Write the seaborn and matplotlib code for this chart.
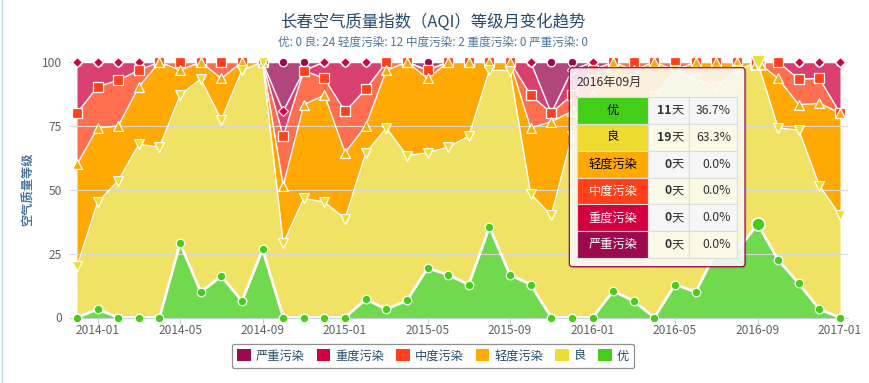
"""
长春空气质量指数（AQI）等级月变化趋势 - 百分比堆叠面积图
"""
import numpy as np
import pandas as pd
import matplotlib
matplotlib.use("Agg")
import matplotlib.pyplot as plt
import seaborn as sns
from matplotlib.patches import FancyBboxPatch, Rectangle, Patch

# Måneder (2013-12 .. 2017-01)
months = pd.period_range("2013-12", "2017-01", freq="M").strftime("%Y-%m").tolist()

# Antal dage pr. niveau pr. måned
days_you = [0, 1, 0, 0, 0, 9, 3, 5, 2, 8, 0, 0, 0, 0, 2, 1, 2, 6, 5, 4, 11, 5, 4, 0,
            0, 0, 3, 2, 0, 4, 3, 8, 8, 11, 7, 4, 1, 0]
days_liang = [6, 13, 15, 21, 20, 18, 25, 19, 28, 22, 9, 14, 14, 12, 16, 22, 17, 14, 15, 18, 19, 24, 11, 12,
              22, 20, 20, 22, 26, 26, 25, 20, 22, 19, 16, 18, 15, 12]
days_light = [12, 9, 6, 7, 10, 3, 2, 5, 1, 0, 7, 11, 13, 8, 3, 7, 11, 9, 10, 9, 1, 1, 8, 11,
              3, 7, 6, 6, 4, 0, 2, 3, 1, 0, 6, 3, 10, 12]
days_moderate = [6, 5, 5, 2, 0, 1, 0, 2, 0, 0, 6, 4, 2, 5, 4, 1, 0, 1, 0, 0, 0, 0, 4, 1,
                 2, 3, 0, 1, 0, 1, 0, 0, 0, 0, 2, 3, 3, 0]
days_heavy = [6, 3, 2, 1, 0, 0, 0, 0, 0, 0, 3, 0, 2, 6, 3, 0, 0, 0, 0, 0, 0, 0, 4, 0,
              3, 1, 0, 0, 0, 0, 0, 0, 0, 0, 0, 2, 2, 6]
days_severe = [0, 0, 0, 0, 0, 0, 0, 0, 0, 0, 6, 1, 0, 0, 0, 0, 0, 1, 0, 0, 0, 0, 0, 6,
               1, 0, 0, 0, 0, 0, 0, 0, 0, 0, 0, 0, 0, 0]

# Niveauer fra bund til top i stakken
levels = ["优", "良", "轻度污染", "中度污染", "重度污染", "严重污染"]
marker_colors = ["#43ce17", "#efdc31", "#ffaa00", "#ff401a", "#d20040", "#9c0a4e"]
fill_colors = ["#70d94e", "#f0e264", "#ffa902", "#ff6f4f", "#d9406f", "#b2457b"]
markers = ["o", "v", "^", "s", "D", "o"]
marker_sizes = [38, 50, 50, 42, 26, 38]

hover_idx = months.index("2016-09")
subtitle = "优: 0 良: 24 轻度污染: 12 中度污染: 2 重度污染: 0 严重污染: 0"

df = pd.DataFrame({
    "优": days_you, "良": days_liang, "轻度污染": days_light,
    "中度污染": days_moderate, "重度污染": days_heavy, "严重污染": days_severe,
}, index=months)
pct = df.div(df.sum(axis=1), axis=0) * 100
cum = pct.cumsum(axis=1)

sns.set_theme(style="white")
plt.rcParams["font.family"] = ["Noto Sans CJK SC", "DejaVu Sans"]

W, H = 869, 383
fig = plt.figure(figsize=(W / 100, H / 100), dpi=100)
ax = fig.add_axes([70 / W, 1 - 317.5 / H, 778 / W, 255.5 / H])

x = np.arange(len(months))
lower = np.zeros(len(months))
for lvl, fc in zip(levels, fill_colors):
    upper = cum[lvl].values
    ax.fill_between(x, lower, upper, color=fc, lw=0, zorder=1)
    lower = upper

# Hvide kantlinjer
for lvl in levels:
    sns.lineplot(x=x, y=cum[lvl].values, color="white", lw=2.0 if lvl == "优" else 1.0,
                 ax=ax, zorder=3, estimator=None, sort=False)

# Markører (tegnes fra top-serien til bund-serien)
for i in reversed(range(len(levels))):
    lvl = levels[i]
    y = cum[lvl].values
    sns.scatterplot(x=x, y=y, marker=markers[i], s=marker_sizes[i], color=marker_colors[i],
                    edgecolor="white", linewidth=0.9, ax=ax, zorder=4 + (5 - i) * 0.1,
                    clip_on=False, legend=False)
    # hover-markør (forstørret)
    ax.scatter([x[hover_idx]], [y[hover_idx]], marker=markers[i], s=marker_sizes[i] * 2.3,
               color=marker_colors[i], edgecolor="white", linewidth=1.2,
               zorder=5 + (5 - i) * 0.1, clip_on=False)

ax.set_xlim(-7 / 20.62, 37 + 8 / 20.62)
ax.set_ylim(0, 100)
ax.set_yticks([0, 25, 50, 75, 100])
ax.yaxis.grid(True, color="#d8d8d8", lw=0.8)
ax.set_axisbelow(False)
for side in ["top", "right", "left"]:
    ax.spines[side].set_visible(False)
ax.spines["bottom"].set_color("#c0d0e0")
ax.spines["bottom"].set_linewidth(0.8)
ax.spines["bottom"].set_zorder(0.5)

tick_pos = [i for i, m in enumerate(months) if m[-2:] in ("01", "05", "09")]
ax.set_xticks(tick_pos)
ax.set_xticklabels([months[i] for i in tick_pos])
ax.tick_params(axis="x", colors="#c0d0e0", length=4, width=0.8, labelcolor="#606060",
               labelsize=8.6, pad=1, bottom=True)
ax.tick_params(axis="y", length=0, labelcolor="#606060", labelsize=8.6, pad=6)
ax.set_xlabel("")
ax.set_ylabel("空气质量等级", color="#4d759e", fontsize=8.8, fontweight="bold", labelpad=5)

fig.text(433 / W, 1 - 22 / H, "长春空气质量指数（AQI）等级月变化趋势", ha="center", va="center",
         color="#274b6d", fontsize=11.8)
fig.text(433 / W, 1 - 42 / H, subtitle, ha="center", va="center", color="#4d759e", fontsize=8.4)

# Forklaring
handles = [Patch(facecolor=marker_colors[i], edgecolor="none") for i in reversed(range(len(levels)))]
leg = fig.legend(handles, list(reversed(levels)), loc="center", bbox_to_anchor=(433 / W, 1 - 356 / H),
                 ncol=6, frameon=True, fancybox=True, edgecolor="#909090", framealpha=1,
                 fontsize=8.8, handlelength=1.1, handleheight=1.1, handletextpad=0.4,
                 columnspacing=1.0, borderpad=0.45)
for t in leg.get_texts():
    t.set_color("#274b6d")
leg.get_frame().set_linewidth(0.9)

# Tooltip for 2016-09
tx0, ty0, tx1, ty1 = 565, 64, 752, 272
tip = fig.add_axes([tx0 / W, 1 - ty1 / H, (tx1 - tx0) / W, (ty1 - ty0) / H], zorder=10)
tip.set_xlim(tx0, tx1)
tip.set_ylim(ty1, ty0)
tip.axis("off")
tip.patch.set_alpha(0)

bx0, by0, bx1, by1 = 569.3, 67.7, 745.0, 266.7
tip.add_patch(FancyBboxPatch((bx0 + 1.5, by0 + 1.5), bx1 - bx0, by1 - by0,
                             boxstyle="round,pad=0,rounding_size=3", fc=(0, 0, 0, 0.12), ec="none"))
tip.add_patch(FancyBboxPatch((bx0, by0), bx1 - bx0, by1 - by0,
                             boxstyle="round,pad=0,rounding_size=3", fc=(1, 1, 1, 0.86),
                             ec="#9c0a4e", lw=0.9))
tip.text(577, 82.5, "2016年09月", ha="left", va="center", color="#333333", fontsize=8.8)

col_x = [577.3, 648.3, 689.3, 736.7]
row_y = np.linspace(96.7, 258.3, 7)
row_bgs = ["#f6f6f6", "#fdf9e7"]
text_cols = ["black", "black", "black", "white", "white", "white"]
for r in range(6):
    lvl = levels[r]
    y0, y1 = row_y[r], row_y[r + 1]
    yc = (y0 + y1) / 2
    tip.add_patch(Rectangle((col_x[0], y0), col_x[1] - col_x[0], y1 - y0,
                            fc=marker_colors[r], ec="#dddddd", lw=0.8))
    for c in (1, 2):
        tip.add_patch(Rectangle((col_x[c], y0), col_x[c + 1] - col_x[c], y1 - y0,
                                fc=row_bgs[r % 2], ec="#dddddd", lw=0.8))
    tip.text((col_x[0] + col_x[1]) / 2, yc, lvl, ha="center", va="center",
             color=text_cols[r], fontsize=8.8)
    d = int(df[lvl].iloc[hover_idx])
    tip.text(672, yc, str(d), ha="right", va="center", color="#333333", fontsize=8.8,
             fontweight="bold")
    tip.text(684, yc, "天", ha="right", va="center", color="#333333", fontsize=8.8)
    tip.text(731, yc, f"{pct[lvl].iloc[hover_idx]:.1f}%", ha="right", va="center",
             color="#333333", fontsize=8.8)

# Tynd ramme i venstre side
fig.add_artist(plt.Line2D([2 / W, 2 / W], [0, 1], color="#b5dcec", lw=1.0))

fig.savefig("out.png", dpi=100)
